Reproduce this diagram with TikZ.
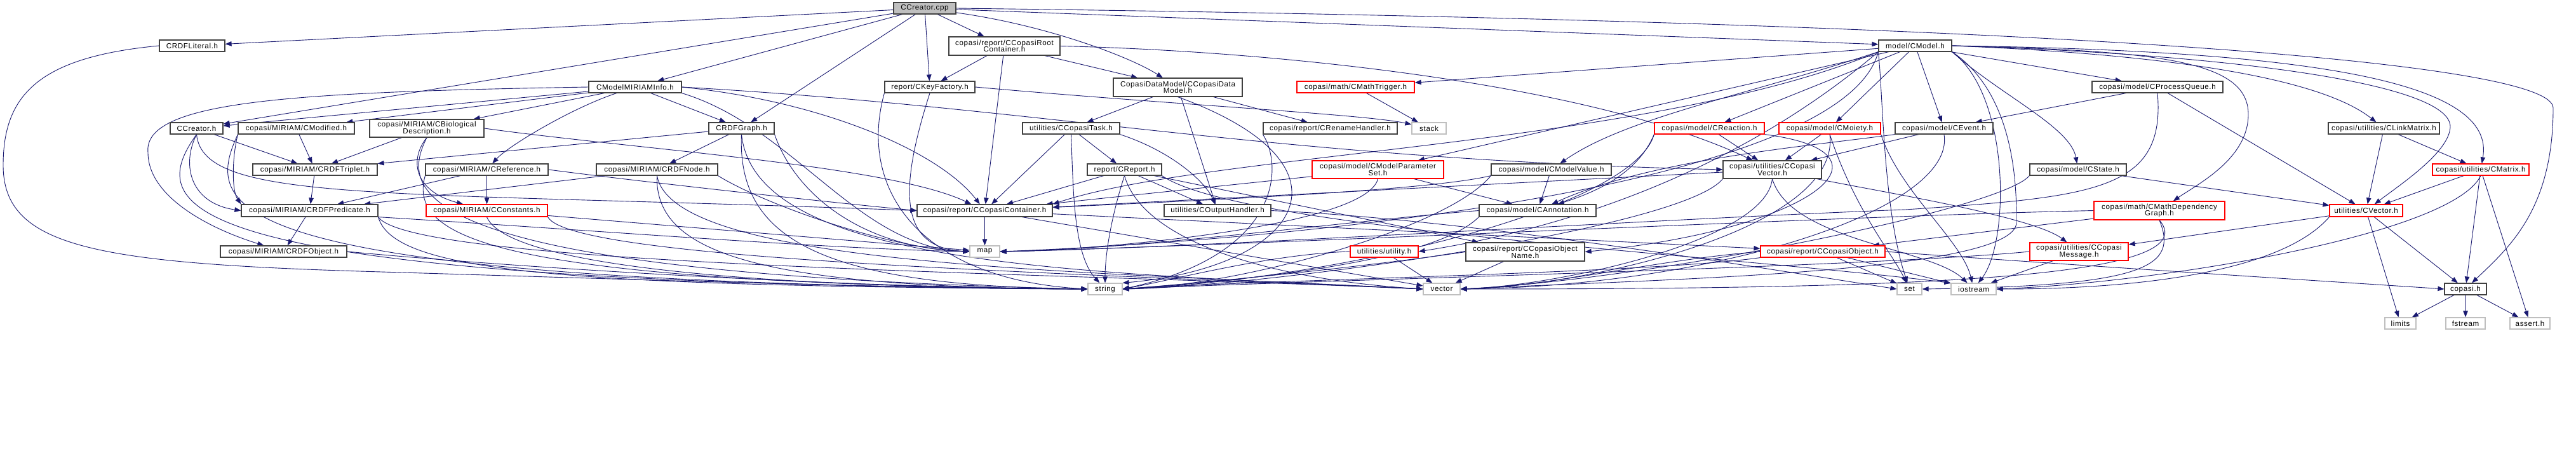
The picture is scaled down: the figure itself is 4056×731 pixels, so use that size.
\documentclass[tikz,border=0pt]{standalone}
\usepackage{fontspec}
\setmainfont{Liberation Sans}[LetterSpace=5.5]
\usetikzlibrary{arrows.meta}
\definecolor{eblue}{RGB}{25,25,112}
\definecolor{bdark}{RGB}{64,64,64}
\definecolor{lgray}{RGB}{191,191,191}
\definecolor{bred}{RGB}{255,0,0}
\pgfdeclarelayer{bg}
\pgfdeclarelayer{edges}
\pgfsetlayers{bg,edges,main}
\newcommand\mkn[6]{\node[#1,minimum width=#4pt,minimum height=#5pt] (#2) at (#3) {#6};}
\newcommand\nfont{\fontsize{11.6}{10.7}\selectfont}
\begin{document}
\lineskiplimit=-20pt
\begin{tikzpicture}[x=1pt,y=-1pt,
  nb/.style={draw=bdark,fill=white,line width=1.2pt,inner sep=0pt,align=center,text=black,font=\nfont},
  rb/.style={nb,draw=bred},
  gb/.style={nb,draw=lgray},
  cb/.style={nb,fill=lgray},
  ln/.style={draw=eblue,line width=0.9pt,-{Triangle[length=10pt,width=7.5pt]}}]
\useasboundingbox (0,0) rectangle (4056,731);
\begin{pgfonlayer}{bg}\fill[white] (0,0) rectangle (4056,731);\end{pgfonlayer}
% nodes
\mkn{cb}{cpp}{1456,13}{98}{18}{CCreator.cpp}
\mkn{nb}{lit}{302.5,72}{103}{18}{CRDFLiteral.h}
\mkn{nb}{cmodel}{3015.5,72}{115}{18}{model/CModel.h}
\mkn{nb}{root}{1581.5,72.5}{175}{29}{copasi/report/CCopasiRoot\\Container.h}
\mkn{nb}{info}{1000,137}{146}{18}{CModelMIRIAMInfo.h}
\mkn{nb}{keyf}{1464,137}{142}{18}{report/CKeyFactory.h}
\mkn{nb}{dm}{1854.5,137.5}{203}{29}{CopasiDataModel/CCopasiData\\Model.h}
\mkn{rb}{trig}{2134.5,137}{185}{18}{copasi/math/CMathTrigger.h}
\mkn{nb}{pq}{3397,137}{206}{18}{copasi/model/CProcessQueue.h}
\mkn{nb}{ccreatorh}{309.5,202}{83}{18}{CCreator.h}
\mkn{nb}{cmod}{466.5,202}{183}{18}{copasi/MIRIAM/CModified.h}
\mkn{nb}{bio}{672,202}{180}{28}{copasi/MIRIAM/CBiological\\Description.h}
\mkn{nb}{graph}{1167.5,202}{103}{18}{CRDFGraph.h}
\mkn{nb}{task}{1686.5,202}{153}{18}{utilities/CCopasiTask.h}
\mkn{nb}{rename}{2094.5,202}{211}{18}{copasi/report/CRenameHandler.h}
\mkn{gb}{stack}{2250,202}{54}{18}{stack}
\mkn{rb}{react}{2691.5,202}{173}{18}{copasi/model/CReaction.h}
\mkn{rb}{moiety}{2881,202}{160}{18}{copasi/model/CMoiety.h}
\mkn{nb}{event}{3061,202}{154}{18}{copasi/model/CEvent.h}
\mkn{nb}{link}{3753.5,202}{175}{18}{copasi/utilities/CLinkMatrix.h}
\mkn{nb}{triplet}{496,267}{196}{18}{copasi/MIRIAM/CRDFTriplet.h}
\mkn{nb}{ref}{766.5,267}{193}{18}{copasi/MIRIAM/CReference.h}
\mkn{nb}{rnode}{1034.5,267}{191}{18}{copasi/MIRIAM/CRDFNode.h}
\mkn{nb}{report}{1770.5,267}{117}{18}{report/CReport.h}
\mkn{rb}{mps}{2169.5,267}{207}{28}{copasi/model/CModelParameter\\Set.h}
\mkn{nb}{mval}{2442.5,267}{189}{18}{copasi/model/CModelValue.h}
\mkn{nb}{cvec}{2790.5,267}{155}{28}{copasi/utilities/CCopasi\\Vector.h}
\mkn{nb}{state}{3272,267}{152}{18}{copasi/model/CState.h}
\mkn{rb}{matrix}{3906,267}{152}{18}{copasi/utilities/CMatrix.h}
\mkn{nb}{pred}{487.5,331.5}{215}{19}{copasi/MIRIAM/CRDFPredicate.h}
\mkn{rb}{const}{766.5,331.5}{191}{19}{copasi/MIRIAM/CConstants.h}
\mkn{nb}{cont}{1550.5,331.5}{213}{19}{copasi/report/CCopasiContainer.h}
\mkn{nb}{out}{1917,331.5}{168}{19}{utilities/COutputHandler.h}
\mkn{nb}{annot}{2421,331.5}{184}{19}{copasi/model/CAnnotation.h}
\mkn{rb}{mdg}{3400,331.5}{206}{29}{copasi/math/CMathDependency\\Graph.h}
\mkn{rb}{cvector}{3725.5,331.5}{115}{19}{utilities/CVector.h}
\mkn{nb}{obj}{446.5,396}{199}{18}{copasi/MIRIAM/CRDFObject.h}
\mkn{gb}{map}{1550.5,396}{47}{18}{map}
\mkn{rb}{util}{2179.5,396}{107}{18}{utilities/utility.h}
\mkn{nb}{objname}{2401.5,396.5}{187}{29}{copasi/report/CCopasiObject\\Name.h}
\mkn{rb}{cobj}{2870,396}{196}{18}{copasi/report/CCopasiObject.h}
\mkn{rb}{msg}{3273.5,396}{155}{28}{copasi/utilities/CCopasi\\Message.h}
\mkn{gb}{string}{1740,455}{54}{18}{string}
\mkn{gb}{vector}{2270,455}{58}{18}{vector}
\mkn{gb}{set}{3006.5,455}{39}{18}{set}
\mkn{gb}{iostream}{3107.5,455}{71}{18}{iostream}
\mkn{nb}{copasih}{3882,455}{66}{18}{copasi.h}
\mkn{gb}{limits}{3779.5,509}{49}{18}{limits}
\mkn{gb}{fstream}{3882,509}{62}{18}{fstream}
\mkn{gb}{assert}{3983.5,509}{63}{18}{assert.h}
\begin{pgfonlayer}{edges}
% CCreator.cpp
\draw[ln] (cpp) -- (lit);
\draw[ln] (cpp) -- (ccreatorh);
\draw[ln] (cpp) -- (info);
\draw[ln] (cpp) -- (graph);
\draw[ln] (cpp) -- (keyf);
\draw[ln] (cpp) -- (root);
\draw[ln] (cpp) .. controls (1650,40) and (1780,90) .. (dm);
\draw[ln] (cpp) -- (cmodel);
\draw[ln] (cpp.east) .. controls (3300,35) and (4020,100) .. (4020,170) .. controls (4020,330) and (3950,390) .. (copasih);
% CRDFLiteral
\draw[ln] (lit.west) .. controls (60,90) and (5,150) .. (5,260) .. controls (5,390) and (150,415) .. (600,428) .. controls (1000,440) and (1450,455) .. (string.west);
% CModelMIRIAMInfo
\draw[ln] (info) -- (ccreatorh);
\draw[ln] (info) -- (cmod);
\draw[ln] (info) -- (bio);
\draw[ln] (info) .. controls (900,170) and (800,230) .. (ref);
\draw[ln] (info) -- (graph);
\draw[ln] (info.west) .. controls (450,145) and (225,160) .. (233,240) .. controls (233,310) and (330,360) .. (obj);
\draw[ln] (info.east) .. controls (1300,160) and (1480,240) .. (cont);
\draw[ln] (info.east) .. controls (1650,170) and (2000,250) .. (cvec.west);
\draw[ln] (info.south east) .. controls (1250,200) and (1350,390) .. (map.west);
% CCreator.h
\draw[ln] (ccreatorh) -- (triplet);
\draw[ln] (ccreatorh.south) .. controls (285,260) and (300,320) .. (pred.west);
\draw[ln] (ccreatorh.south) .. controls (320,320) and (600,300) .. (cont.west);
\draw[ln] (ccreatorh.south) .. controls (225,330) and (260,445) .. (string.west);
% CModified
\draw[ln] (cmod) -- (triplet);
\draw[ln] (cmod.south west) .. controls (365,250) and (365,300) .. (pred.north west);
\draw[ln] (cmod.south west) .. controls (320,330) and (330,445) .. (string.west);
% CBiologicalDescription
\draw[ln] (bio) -- (triplet);
\draw[ln] (bio.south) .. controls (645,250) and (650,300) .. (const);
\draw[ln] (bio.east) .. controls (1000,235) and (1400,260) .. (cont);
\draw[ln] (bio.south) .. controls (630,300) and (630,430) .. (string.west);
% CRDFGraph
\draw[ln] (graph) -- (triplet);
\draw[ln] (graph) -- (rnode);
\draw[ln] (graph.south east) .. controls (1250,300) and (1350,390) .. (map.west);
\draw[ln] (graph.south) .. controls (1160,380) and (1300,450) .. (string.west);
\draw[ln] (graph.south) .. controls (1190,420) and (1690,428) .. (vector.west);
% CRDFNode
\draw[ln] (rnode) -- (pred);
\draw[ln] (rnode.south east) .. controls (1200,320) and (1400,392) .. (map.west);
\draw[ln] (rnode.south) .. controls (1030,400) and (1200,452) .. (string.west);
\draw[ln] (rnode.south) .. controls (1060,420) and (1690,426) .. (vector.west);
% CRDFTriplet
\draw[ln] (triplet) -- (pred);
% CRDFPredicate
\draw[ln] (pred) -- (obj);
\draw[ln] (pred.south east) .. controls (900,360) and (1300,392) .. (map.west);
\draw[ln] (pred.south east) .. controls (620,430) and (900,450) .. (string.west);
\draw[ln] (pred.south east) .. controls (650,420) and (1690,430) .. (vector.west);
% CRDFObject
\draw[ln] (obj.east) .. controls (800,420) and (1300,452) .. (string.west);
% CReference
\draw[ln] (ref) -- (pred);
\draw[ln] (ref) -- (const);
\draw[ln] (ref.east) .. controls (1000,285) and (1300,318) .. (cont.west);
\draw[ln] (ref.south west) .. controls (640,380) and (800,445) .. (string.west);
% CConstants
\draw[ln] (const) -- (map);
\draw[ln] (const.south) .. controls (800,420) and (1200,452) .. (string.west);
\draw[ln] (const.south east) .. controls (900,410) and (1690,430) .. (vector.west);
% CKeyFactory
\draw[ln] (keyf.east) .. controls (1850,165) and (2150,180) .. (stack);
\draw[ln] (keyf.south) .. controls (1415,300) and (1415,390) .. (map.west);
\draw[ln] (keyf.south west) .. controls (1350,300) and (1450,440) .. (string.west);
% CCopasiRootContainer
\draw[ln] (root) -- (keyf);
\draw[ln] (root) -- (cont);
\draw[ln] (root) -- (dm);
\draw[ln] (root.east) .. controls (2000,80) and (2500,130) .. (cvec);
% CCopasiDataModel
\draw[ln] (dm) -- (task);
\draw[ln] (dm) -- (out);
\draw[ln] (dm) -- (rename);
\draw[ln] (dm.south) .. controls (2150,260) and (2050,420) .. (string.north east);
% CCopasiTask
\draw[ln] (task) -- (report);
\draw[ln] (task) -- (cont);
\draw[ln] (task.south east) .. controls (1850,240) and (1900,290) .. (out);
\draw[ln] (task.south) .. controls (1690,300) and (1690,400) .. (string);
% CReport
\draw[ln] (report) -- (cont);
\draw[ln] (report) -- (out);
\draw[ln] (report.south) .. controls (1750,340) and (1740,400) .. (string);
\draw[ln] (report.south) .. controls (1800,380) and (2000,440) .. (vector.west);
\draw[ln] (report.south east) .. controls (1950,360) and (2700,400) .. (iostream.north west);
\draw[ln] (report) -- (objname);
% COutputHandler
\draw[ln] (out.east) .. controls (2300,345) and (2700,410) .. (set.west);
% CCopasiContainer
\draw[ln] (cont) -- (map);
\draw[ln] (cont) -- (cobj);
\draw[ln] (cont) -- (vector);
% CRenameHandler
\draw[ln] (rename.south west) .. controls (2020,260) and (2020,400) .. (string.east);
% CMathTrigger
\draw[ln] (trig) -- (stack);
% CModel
\draw[ln] (cmodel) -- (trig);
\draw[ln] (cmodel) -- (mps);
\draw[ln] (cmodel.south west) .. controls (2750,150) and (2560,185) .. (mval);
\draw[ln] (cmodel) -- (react);
\draw[ln] (cmodel) -- (moiety);
\draw[ln] (cmodel) -- (event);
\draw[ln] (cmodel.south east) .. controls (3150,150) and (3260,200) .. (state);
\draw[ln] (cmodel) -- (pq);
\draw[ln] (cmodel.east) .. controls (3400,80) and (3540,95) .. (3540,180) .. controls (3540,250) and (3460,290) .. (mdg);
\draw[ln] (cmodel.east) .. controls (3400,85) and (3650,120) .. (link);
\draw[ln] (cmodel.east) .. controls (3650,80) and (3930,130) .. (matrix);
\draw[ln] (cmodel.east) .. controls (3500,85) and (3860,130) .. (3858,200) .. controls (3856,240) and (3780,290) .. (cvector);
\draw[ln] (cmodel.south west) .. controls (2600,230) and (1900,240) .. (cont.north east);
\draw[ln] (cmodel.south west) .. controls (2900,300) and (2000,380) .. (map.east);
\draw[ln] (cmodel.south west) .. controls (2965,150) and (2965,330) .. (set);
\draw[ln] (cmodel.south east) .. controls (3165,150) and (3165,380) .. (iostream);
\draw[ln] (cmodel.south east) .. controls (3175,150) and (3175,300) .. (3175,350) .. controls (3175,430) and (2600,440) .. (vector.east);
\draw[ln] (cmodel.south west) .. controls (2700,300) and (2400,370) .. (util.east);
% CReaction
\draw[ln] (react) -- (cvec);
\draw[ln] (react.south west) .. controls (2580,270) and (2520,300) .. (annot);
\draw[ln] (react.south east) .. controls (3000,240) and (2860,360) .. (objname.east);
\draw[ln] (react.south west) .. controls (2570,330) and (2100,440) .. (string.east);
% CMoiety
\draw[ln] (moiety) -- (cvec);
\draw[ln] (moiety.south) .. controls (2900,360) and (2500,450) .. (vector.east);
\draw[ln] (moiety.south east) .. controls (2990,300) and (3090,380) .. (iostream);
\draw[ln] (moiety.south) .. controls (2920,330) and (2980,400) .. (set);
% CEvent
\draw[ln] (event) -- (cvec);
\draw[ln] (event.south west) .. controls (2850,230) and (2600,250) .. (annot);
\draw[ln] (event.south) .. controls (3080,330) and (2700,450) .. (vector.east);
% CProcessQueue
\draw[ln] (pq) -- (event);
\draw[ln] (pq) -- (cvector);
\draw[ln] (pq.south) .. controls (3410,300) and (3300,310) .. (3000,330) .. controls (2600,345) and (1900,390) .. (map.east);
% CState
\draw[ln] (state) -- (cvector);
\draw[ln] (state.south west) .. controls (3150,330) and (2600,440) .. (vector.east);
% CMathDependencyGraph
\draw[ln] (mdg.west) .. controls (2900,340) and (2000,385) .. (map.east);
\draw[ln] (mdg.south) .. controls (3430,420) and (3380,450) .. (set.east);
\draw[ln] (mdg.south) .. controls (3480,440) and (3000,455) .. (vector.east);
\draw[ln] (mdg) -- (cobj);
% CLinkMatrix
\draw[ln] (link) -- (cvector);
\draw[ln] (link) -- (matrix);
% CMatrix
\draw[ln] (matrix) -- (cvector);
\draw[ln] (matrix) -- (copasih);
\draw[ln] (matrix) -- (assert);
\draw[ln] (matrix.south) .. controls (3860,370) and (3400,445) .. (iostream.east);
% CVector
\draw[ln] (cvector) -- (copasih);
\draw[ln] (cvector) -- (limits);
\draw[ln] (cvector) -- (msg);
\draw[ln] (cvector.south west) .. controls (3600,420) and (3400,455) .. (iostream.east);
% copasi.h
\draw[ln] (copasih) -- (limits);
\draw[ln] (copasih) -- (fstream);
\draw[ln] (copasih) -- (assert);
% CCopasiVector
\draw[ln] (cvec) -- (cont);
\draw[ln] (cvec) .. controls (2950,300) and (3200,340) .. (msg);
\draw[ln] (cvec.south) .. controls (2780,380) and (2450,450) .. (vector.east);
\draw[ln] (cvec.south west) .. controls (2650,360) and (2000,450) .. (string.east);
\draw[ln] (cvec.south) .. controls (2820,380) and (3040,390) .. (iostream);
% CModelValue
\draw[ln] (mval) -- (annot);
\draw[ln] (mval.south west) .. controls (2250,300) and (1900,315) .. (cont);
\draw[ln] (mval.south west) .. controls (2280,360) and (1950,450) .. (string.east);
% CModelParameterSet
\draw[ln] (mps) -- (annot);
\draw[ln] (mps) -- (cont);
\draw[ln] (mps.south) .. controls (2150,360) and (1700,395) .. (map.east);
% CAnnotation
\draw[ln] (annot.west) .. controls (2150,345) and (1800,392) .. (map.east);
\draw[ln] (annot.south west) .. controls (2250,420) and (1900,445) .. (string.east);
% CCopasiObjectName
\draw[ln] (objname.west) .. controls (2150,420) and (1900,445) .. (string.east);
\draw[ln] (objname) -- (vector);
% CCopasiObject
\draw[ln] (cobj) -- (set);
\draw[ln] (cobj) -- (iostream);
\draw[ln] (cobj.south west) .. controls (2600,430) and (2000,440) .. (string.east);
\draw[ln] (cobj.west) .. controls (2600,410) and (2450,450) .. (vector.east);
\draw[ln] (cobj.east) .. controls (3300,420) and (3700,445) .. (copasih.west);
% utility.h
\draw[ln] (util.west) .. controls (2000,400) and (1850,440) .. (string.east);
\draw[ln] (util) -- (vector);
% CCopasiMessage
\draw[ln] (msg.west) .. controls (2950,420) and (2100,440) .. (string.east);
\draw[ln] (msg) -- (iostream);
\end{pgfonlayer}
\end{tikzpicture}
\end{document}
